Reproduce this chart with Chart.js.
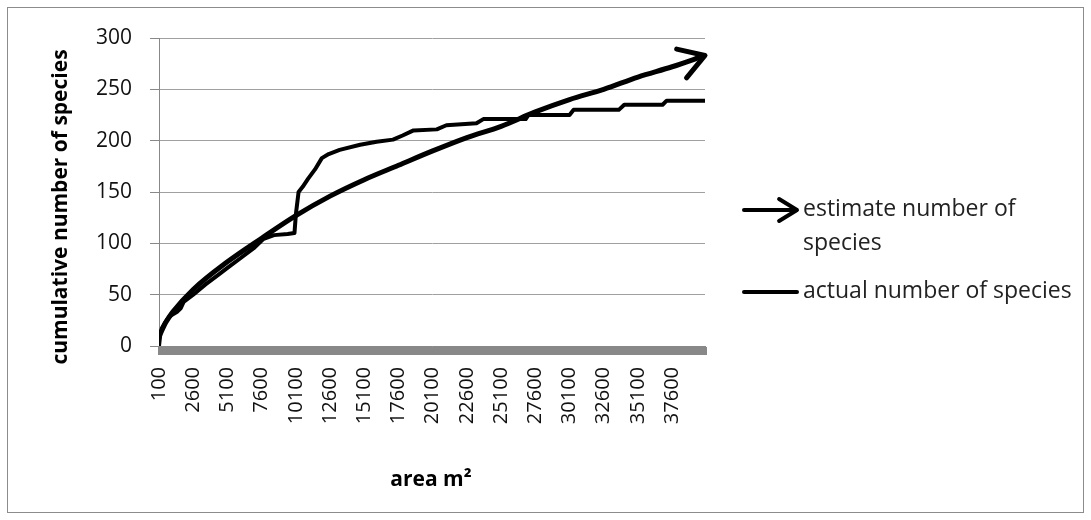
<!DOCTYPE html>
<html><head><meta charset="utf-8">
<script src="https://cdn.jsdelivr.net/npm/chart.js@4.4.1/dist/chart.umd.min.js"></script>
<style>
html,body{margin:0;padding:0;background:#fff;}
#wrap{position:relative;width:1091px;height:520px;}
canvas{position:absolute;left:0;top:0;}
</style></head><body>
<div id="wrap"><canvas id="c" width="1091" height="520"></canvas></div>
<script>
// ---- data ----
const tickLabels = ['100','2600','5100','7600','10100','12600','15100','17600','20100','22600','25100','27600','30100','32600','35100','37600'];
const areaMin = 100, areaMax = 40000, areaStep = 100;
const yTicks = [0, 50, 100, 150, 200, 250, 300];

const estimateArea  = [100, 600, 1100, 2600, 5100, 7600, 10100, 12600, 15100, 17600, 20100, 22600, 25100, 27600, 30100, 32600, 35100, 37600, 40000];
const estimateCount = [9, 23, 33, 55, 82, 105, 127, 146, 162, 176, 190, 203, 214, 228, 240, 250, 262, 272, 283];

const actualArea  = [100, 200, 300, 500, 700, 1000, 1400, 1700, 1900, 2600, 3500, 4500, 5100, 6000, 7000, 7700, 8500, 9500, 10000, 10100, 10300, 10600, 11000, 11500, 12000, 12500, 13300, 14800, 16000, 17200, 17900, 18700, 20400, 21100, 23300, 23800, 26900, 27100, 30100, 30400, 33700, 34100, 36900, 37200, 40000];
const actualCount = [0, 12, 17, 22, 26, 30, 33, 37, 43, 50, 60, 70, 76, 85, 95, 104, 108, 109, 110, 128, 150, 155, 163, 172, 183, 187, 191, 196, 199, 201, 205, 210, 211, 215, 217, 221, 221, 225, 225, 230, 230, 235, 235, 239, 239];

const seriesNames = ['estimate number of species', 'actual number of species'];
const legendLines = [['estimate number of', 'species'], ['actual number of species']];
const yTitle = 'cumulative number of species';
const xTitle = 'area m²';

// ---- helpers ----
const FONT = '"Open Sans", "Noto Sans", sans-serif';
function drawArrowHead(ctx, tipX, tipY, fromX, fromY, len, angle, width) {
  const a = Math.atan2(tipY - fromY, tipX - fromX);
  ctx.save();
  ctx.strokeStyle = '#000';
  ctx.lineWidth = width;
  ctx.lineCap = 'round';
  ctx.lineJoin = 'round';
  ctx.beginPath();
  ctx.moveTo(tipX - len * Math.cos(a - angle), tipY - len * Math.sin(a - angle));
  ctx.lineTo(tipX, tipY);
  ctx.lineTo(tipX - len * Math.cos(a + angle), tipY - len * Math.sin(a + angle));
  ctx.stroke();
  ctx.restore();
}

const decor = {
  id: 'decor',
  beforeDraw(chart) {
    const ctx = chart.ctx;
    ctx.save();
    ctx.fillStyle = '#fff';
    ctx.fillRect(0, 0, chart.width, chart.height);
    ctx.strokeStyle = '#8c8c8c';
    ctx.lineWidth = 1;
    ctx.strokeRect(7.5, 7.5, 1076, 505);
    ctx.restore();
  },
  afterDatasetsDraw(chart) {
    const meta = chart.getDatasetMeta(0);
    const pts = meta.data;
    const tip = pts[pts.length - 1];
    const prev = pts[pts.length - 2];
    drawArrowHead(chart.ctx, tip.x, tip.y, prev.x, prev.y, 29, 0.55, 5);
  },
  afterDraw(chart) {
    const ctx = chart.ctx;
    ctx.save();
    ctx.fillStyle = '#000';
    // y title
    ctx.font = 'bold 21px ' + FONT;
    ctx.textAlign = 'center';
    ctx.textBaseline = 'alphabetic';
    ctx.save();
    ctx.translate(67, 207);
    ctx.rotate(-Math.PI / 2);
    ctx.fillText(yTitle, 0, 0);
    ctx.restore();
    // x title
    ctx.fillText(xTitle, 431, 486);
    // legend
    ctx.font = '23px ' + FONT;
    ctx.textAlign = 'left';
    ctx.textBaseline = 'middle';
    ctx.fillStyle = '#222';
    const lx0 = 744, lx1 = 797, tx = 803;
    // estimate
    ctx.strokeStyle = '#000';
    ctx.lineWidth = 4;
    ctx.lineCap = 'round';
    ctx.beginPath(); ctx.moveTo(lx0, 210); ctx.lineTo(lx1 - 2, 210); ctx.stroke();
    drawArrowHead(ctx, lx1, 210, lx0, 210, 21, 0.55, 4);
    ctx.fillText(legendLines[0][0], tx, 209);
    ctx.fillText(legendLines[0][1], tx, 243);
    // actual
    ctx.lineWidth = 4;
    ctx.beginPath(); ctx.moveTo(lx0, 292); ctx.lineTo(lx1, 292); ctx.stroke();
    ctx.fillText(legendLines[1][0], tx, 291);
    ctx.restore();
  }
};

new Chart(document.getElementById('c'), {
  type: 'line',
  data: {
    datasets: [
      {
        label: seriesNames[0],
        data: estimateArea.map((a, i) => ({ x: a, y: estimateCount[i] })),
        borderColor: '#000',
        borderWidth: 5,
        pointRadius: 0,
        cubicInterpolationMode: 'monotone',
        borderCapStyle: 'round',
        borderJoinStyle: 'round',
        fill: false,
        order: 0
      },
      {
        label: seriesNames[1],
        data: actualArea.map((a, i) => ({ x: a, y: actualCount[i] })),
        borderColor: '#000',
        borderWidth: 4,
        pointRadius: 0,
        tension: 0,
        borderJoinStyle: 'round',
        borderCapStyle: 'round',
        fill: false,
        order: 1
      }
    ]
  },
  options: {
    responsive: false,
    animation: false,
    devicePixelRatio: 1,
    layout: { padding: { left: 0, top: 38, right: 386, bottom: 0 } },
    plugins: { legend: { display: false }, tooltip: { enabled: false } },
    scales: {
      x: {
        type: 'linear',
        min: areaMin,
        max: areaMax,
        afterBuildTicks(scale) {
          const t = [];
          for (let v = areaMin; v <= areaMax; v += areaStep) t.push({ value: v });
          scale.ticks = t;
        },
        afterFit(scale) { scale.height = 174; },
        grid: { display: true, drawOnChartArea: false, drawTicks: true, tickLength: 9, tickColor: '#888888', tickWidth: 3 },
        border: { display: true, color: '#888888', width: 1 },
        ticks: {
          autoSkip: false,
          maxRotation: 90,
          minRotation: 90,
          padding: 12,
          color: '#111',
          font: { family: FONT, size: 20 },
          callback: (v) => tickLabels.includes(String(v)) ? String(v) : ''
        }
      },
      y: {
        min: 0,
        max: 300,
        afterBuildTicks(scale) { scale.ticks = yTicks.map(v => ({ value: v })); },
        afterFit(scale) { scale.width = 159; },
        grid: { color: '#a0a0a0', lineWidth: 1, tickLength: 9, tickColor: '#888888' },
        border: { display: true, color: '#888888', width: 1 },
        ticks: { padding: 18, color: '#111', font: { family: FONT, size: 21 } }
      }
    }
  },
  plugins: [decor]
});
</script>
</body></html>
